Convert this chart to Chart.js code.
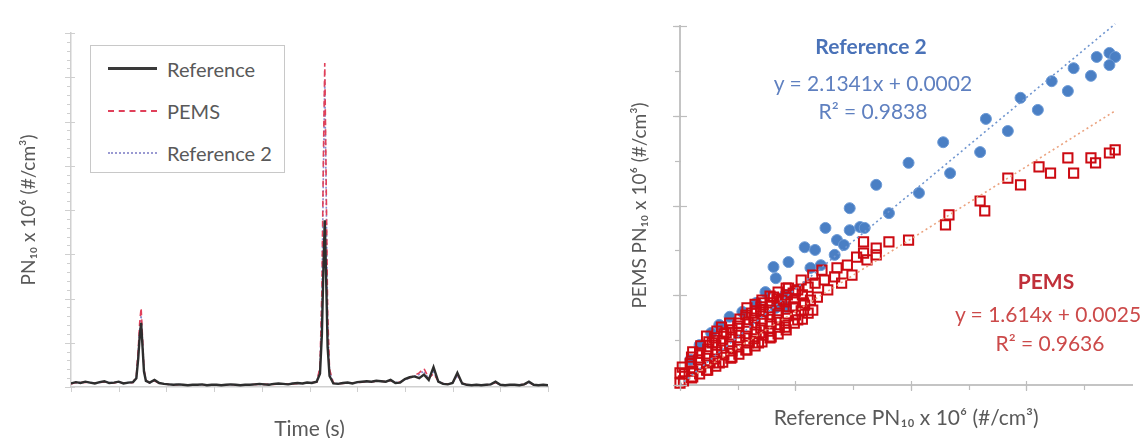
<!DOCTYPE html>
<html><head><meta charset="utf-8">
<script src="https://cdn.jsdelivr.net/npm/chart.js@4.4.1/dist/chart.umd.min.js"></script>
<style>
html,body{margin:0;padding:0;background:#fff;}
#wrap{position:relative;width:1141px;height:438px;overflow:hidden;font-family:Lato,'Open Sans',sans-serif;}
canvas{position:absolute;top:0;}
#cL{left:0}
#cR{left:560px}
.lg{position:absolute;left:90px;top:45px;width:195px;height:128px;border:1px solid #c8c8c8;box-sizing:border-box;background:#fff;}
.row{position:absolute;left:0;height:24px;width:190px;}
.sw{position:absolute;left:17px;width:49px;top:11px;height:0;}
.lt{position:absolute;left:76px;top:0;font-size:20px;line-height:24px;color:#595959;white-space:nowrap;}
.ann{position:absolute;transform:translate(-50%,-50%);white-space:nowrap;font-size:21px;line-height:1;}
</style></head>
<body>
<div id="wrap">
<canvas id="cL" width="560" height="438"></canvas>
<canvas id="cR" width="581" height="438"></canvas>
<div class="lg">
  <div class="row" style="top:11px"><div class="sw" style="border-top:3px solid #3a3a3a;top:10px"></div><div class="lt">Reference</div></div>
  <div class="row" style="top:53px"><div class="sw" style="border-top:2px dashed #e0405a"></div><div class="lt">PEMS</div></div>
  <div class="row" style="top:95px"><div class="sw" style="border-top:2px dotted #9a9ad2"></div><div class="lt">Reference 2</div></div>
</div>
<div class="ann" style="left:871px;top:45px;font-weight:bold;color:#4a72b8">Reference 2</div>
<div class="ann" style="left:873px;top:82px;color:#5f80c0">y = 2.1341x + 0.0002</div>
<div class="ann" style="left:873px;top:110px;color:#5f80c0">R² = 0.9838</div>
<div class="ann" style="left:1046px;top:280px;font-weight:bold;color:#c0303a">PEMS</div>
<div class="ann" style="left:1048px;top:313px;color:#cc4a4a">y = 1.614x + 0.0025</div>
<div class="ann" style="left:1050px;top:342px;color:#cc4a4a">R² = 0.9636</div>
</div>
<script>
// ---------- Left chart: time series ----------
const times = [0,10,20,30,40,50,60,70,80,90,100,110,120,130,
  137,141,144,147,150,153,157,
  165,175,185,195,205,215,225,235,245,255,265,275,285,295,305,315,325,335,345,355,365,375,385,395,405,415,425,435,445,455,465,475,485,495,505,515,
  522,526,529,532,535,538,542,
  550,560,570,580,590,600,610,620,630,640,650,660,670,680,690,700,710,720,730,740,750,760,770,780,790,800,810,820,830,840,850,860,870,880,890,900,910,920,930,940,950,960,970,980,990,1000];

const reference = [0.08,0.11,0.09,0.12,0.10,0.08,0.11,0.13,0.09,0.10,0.12,0.08,0.10,0.11,
  0.20,0.65,1.15,1.45,0.90,0.35,0.14,
  0.10,0.16,0.09,0.07,0.06,0.05,0.06,0.05,0.04,0.05,
  0.05,0.06,0.04,0.05,0.05,0.04,0.05,0.06,0.05,0.04,
  0.05,0.05,0.06,0.07,0.06,0.05,0.07,0.08,0.07,0.06,
  0.08,0.09,0.08,0.10,0.09,0.12,
  0.30,1.20,2.60,3.77,2.40,0.90,0.25,
  0.08,0.07,0.09,0.10,0.08,0.11,0.12,0.13,0.12,0.14,
  0.13,0.12,0.16,0.09,0.10,0.18,0.22,0.24,0.20,0.28,
  0.16,0.45,0.12,0.07,0.06,0.09,0.32,0.08,0.05,0.04,
  0.05,0.04,0.05,0.06,0.12,0.05,0.04,0.05,0.05,0.04,
  0.06,0.12,0.05,0.04,0.05,0.04];

const pems = [0.07,0.10,0.10,0.11,0.09,0.09,0.10,0.12,0.10,0.09,0.11,0.09,0.09,0.10,
  0.25,0.85,1.45,1.79,1.10,0.40,0.15,
  0.09,0.14,0.08,0.07,0.06,0.05,0.05,0.05,0.05,0.05,
  0.04,0.05,0.05,0.05,0.04,0.05,0.05,0.05,0.05,0.05,
  0.04,0.05,0.06,0.06,0.06,0.06,0.06,0.07,0.07,0.07,
  0.07,0.08,0.08,0.09,0.10,0.11,
  0.45,2.20,5.10,7.32,4.60,1.70,0.40,
  0.09,0.08,0.08,0.09,0.09,0.10,0.11,0.12,0.12,0.13,
  0.13,0.12,0.15,0.10,0.11,0.17,0.21,0.26,0.32,0.42,
  0.20,0.30,0.14,0.08,0.07,0.10,0.28,0.09,0.05,0.05,
  0.05,0.05,0.05,0.06,0.10,0.05,0.05,0.05,0.05,0.05,
  0.06,0.10,0.05,0.05,0.05,0.05];

const reference2 = [0.08,0.10,0.10,0.11,0.10,0.09,0.10,0.12,0.10,0.10,0.11,0.09,0.10,0.10,
  0.22,0.75,1.30,1.62,1.00,0.38,0.14,
  0.09,0.15,0.09,0.07,0.06,0.05,0.06,0.05,0.05,0.05,
  0.05,0.05,0.05,0.05,0.05,0.05,0.05,0.05,0.05,0.05,
  0.05,0.05,0.06,0.06,0.06,0.06,0.07,0.07,0.07,0.07,
  0.08,0.08,0.08,0.09,0.10,0.11,
  0.40,2.00,4.70,6.95,4.30,1.50,0.35,
  0.09,0.08,0.09,0.09,0.09,0.10,0.11,0.12,0.12,0.13,
  0.13,0.12,0.15,0.10,0.11,0.17,0.20,0.24,0.28,0.36,
  0.18,0.34,0.13,0.08,0.07,0.09,0.26,0.08,0.05,0.05,
  0.05,0.05,0.05,0.06,0.10,0.05,0.05,0.05,0.05,0.05,
  0.06,0.10,0.05,0.05,0.05,0.05];

// ---------- Right chart: scatter ----------
const ref2X = [0.170,0.181,0.198,0.207,0.228,0.234,0.260,0.265,0.284,0.295,0.310,0.322,0.336,0.341,0.356,0.361,0.372,0.377,0.372,
  0.147,0.126,0.147,0.156,0.160,0.136,0.108,0.117,0.142,0.094,0.081,0.083,0.134,0.122,0.113,0.074,0.091,0.092,0.083,0.043,0.066,0.027,0.054,0.017,0.009,0.034];
const ref2Y = [0.446,0.383,0.495,0.428,0.541,0.472,0.519,0.593,0.566,0.640,0.613,0.677,0.655,0.706,0.689,0.731,0.740,0.731,0.713,
  0.394,0.350,0.345,0.352,0.350,0.323,0.307,0.301,0.312,0.274,0.263,0.238,0.290,0.267,0.261,0.207,0.201,0.174,0.172,0.152,0.183,0.116,0.163,0.089,0.056,0.134];

const pemsX = [0.233,0.260,0.264,0.284,0.295,0.311,0.321,0.336,0.341,0.356,0.360,0.372,0.377,
  0.230,0.198,0.181,0.170,0.159,0.153,0.159,0.170,0.162,0.145,0.136,0.134,0.125,0.117,0.111,0.105,0.094,0.081,
  0.108,0.111,0.102,0.091,0.079,0.068,0.057,0.045,0.034,0.023,0.011,0.000,
  0.071,0.062,0.051,0.040,0.028,0.017,0.009,0.000,0.113,0.115,
  0.128,0.140,0.149,0.119,0.098,0.088,0.072,0.123,0.115,0.102,
  0.003,0.004,0.002,
  0.010,0.011,0.009,0.010,0.011,
  0.017,0.018,0.016,0.017,0.018,
  0.024,0.025,0.023,0.024,0.025,0.023,
  0.031,0.030,0.032,0.031,0.030,0.032,
  0.037,0.038,0.036,0.037,0.038,0.036,
  0.044,0.045,0.043,0.044,0.045,0.043,
  0.051,0.050,0.052,0.051,0.050,0.052,
  0.058,0.059,0.057,0.058,0.059,0.057,0.058,
  0.065,0.064,0.066,0.065,0.064,0.066,0.065,
  0.071,0.072,0.070,0.071,0.072,0.070,0.071,
  0.078,0.077,0.079,0.078,0.077,0.079,0.078,
  0.085,0.086,0.084,0.085,0.086,0.084,0.085,
  0.092,0.091,0.093,0.092,0.091,0.093,0.092,
  0.099,0.100,0.098,0.099,0.100,
  0.106,0.105,0.107,0.106];
const pemsY = [0.379,0.410,0.388,0.461,0.446,0.486,0.472,0.506,0.472,0.506,0.495,0.517,0.524,
  0.357,0.323,0.319,0.305,0.294,0.285,0.319,0.290,0.279,0.267,0.261,0.241,0.234,0.227,0.218,0.234,0.216,0.196,
  0.178,0.160,0.145,0.129,0.107,0.094,0.078,0.062,0.049,0.033,0.018,0.004,
  0.183,0.160,0.138,0.116,0.094,0.071,0.049,0.027,0.189,0.167,
  0.212,0.227,0.245,0.196,0.205,0.189,0.167,0.256,0.245,0.212,
  0.009,0.025,0.040,
  0.016,0.031,0.047,0.062,0.074,
  0.025,0.040,0.056,0.071,0.087,
  0.033,0.049,0.065,0.080,0.096,0.109,
  0.042,0.058,0.074,0.089,0.105,0.120,
  0.051,0.067,0.082,0.098,0.114,0.129,
  0.060,0.076,0.091,0.107,0.123,0.138,
  0.069,0.085,0.100,0.116,0.131,0.147,
  0.078,0.094,0.109,0.125,0.140,0.156,0.172,
  0.087,0.103,0.118,0.134,0.149,0.165,0.180,
  0.096,0.111,0.127,0.143,0.158,0.174,0.189,
  0.105,0.120,0.136,0.152,0.167,0.183,0.198,
  0.114,0.129,0.145,0.160,0.176,0.192,0.207,
  0.123,0.138,0.154,0.169,0.185,0.201,0.216,
  0.138,0.156,0.174,0.192,0.209,
  0.147,0.165,0.183,0.201];

const ref2Slope = 2.1341, ref2Intercept = 0.0002;
const pemsSlope = 1.614, pemsIntercept = 0.0025;
const trendXEnd = 0.377;

// ---------- tick-mark plugin (axis decoration only) ----------
const tickPlugin = {
  id: 'axisTicks',
  afterDraw(chart, args, o) {
    const ctx = chart.ctx, ca = chart.chartArea;
    const xs = chart.scales.x, ys = chart.scales.y;
    ctx.save();
    ctx.strokeStyle = o.color; ctx.lineWidth = o.width;
    const draw = (scale, spec, horiz) => {
      if (!spec) return;
      for (let i = 0; ; i++) {
        const v = scale.min + i * spec.step;
        if (v > scale.max + 1e-9) break;
        const p = Math.round(scale.getPixelForValue(v)) + 0.5;
        ctx.beginPath();
        if (horiz) { ctx.moveTo(p, ca.bottom - spec.inn); ctx.lineTo(p, ca.bottom + spec.out); }
        else { ctx.moveTo(ca.left - spec.out, p); ctx.lineTo(ca.left + spec.inn, p); }
        ctx.stroke();
      }
    };
    draw(xs, o.xMinor, true); draw(xs, o.xMajor, true);
    draw(ys, o.yMinor, false); draw(ys, o.yMajor, false);
    ctx.restore();
  }
};

const yTitleFont = {family: 'Lato', size: 19};
const xTitleFont = {family: 'Lato', size: 21, lineHeight: 0.8};
const pts = (xa, ya) => xa.map((x, i) => ({x: x, y: ya[i]}));

new Chart(document.getElementById('cL'), {
  type: 'line',
  data: { datasets: [
    {label: 'Reference', data: pts(times, reference), borderColor: '#2e2e2e', borderWidth: 2.4, pointRadius: 0, tension: 0, order: 0},
    {label: 'PEMS', data: pts(times, pems), borderColor: '#e0405a', borderWidth: 1.6, borderDash: [6, 4], pointRadius: 0, tension: 0, order: 1},
    {label: 'Reference 2', data: pts(times, reference2), borderColor: '#8c8ccc', borderWidth: 1.6, borderDash: [2, 2], pointRadius: 0, tension: 0, order: 2}
  ]},
  options: {
    responsive: false, animation: false,
    layout: {padding: {left: 0, top: 33, right: 12, bottom: 0}},
    plugins: {legend: {display: false}, tooltip: {enabled: false},
      axisTicks: {color: '#cfcfcf', width: 1,
        xMajor: {step: 100, inn: 0, out: 5},
        yMajor: {step: 1, inn: 4, out: 6}, yMinor: {step: 0.2, inn: 0, out: 4}}},
    scales: {
      x: {type: 'linear', min: 0, max: 1000, grid: {display: false}, border: {color: '#d0d0d0', width: 1.5},
          ticks: {display: false},
          title: {display: true, text: 'Time (s)', color: '#595959', font: xTitleFont, padding: {top: 0, bottom: 0}},
          afterFit(s) { s.height = 51; }},
      y: {type: 'linear', min: 0, max: 8, grid: {display: false}, border: {color: '#d0d0d0', width: 1.5},
          ticks: {display: false},
          title: {display: true, text: 'PN\u2081\u2080 x 10\u2076 (#/cm\u00B3)', color: '#595959', font: yTitleFont, padding: {top: 17, bottom: 0}},
          afterFit(s) { s.width = 71; }}
    }
  },
  plugins: [tickPlugin]
});

new Chart(document.getElementById('cR'), {
  type: 'scatter',
  data: { datasets: [
    {label: 'Reference 2 trend', type: 'line', data: [{x: 0, y: ref2Intercept}, {x: trendXEnd, y: ref2Slope * trendXEnd + ref2Intercept}],
      borderColor: '#6f95cf', borderWidth: 1.6, borderDash: [2, 3], pointRadius: 0, order: 0, clip: false},
    {label: 'PEMS trend', type: 'line', data: [{x: 0, y: pemsIntercept}, {x: trendXEnd, y: pemsSlope * trendXEnd + pemsIntercept}],
      borderColor: '#eba27e', borderWidth: 1.6, borderDash: [2, 3], pointRadius: 0, order: 0, clip: false},
    {label: 'PEMS', data: pts(pemsX, pemsY), pointStyle: 'rect', pointRadius: 6.5, backgroundColor: 'rgba(0,0,0,0)',
      borderColor: '#cc0a12', pointBorderWidth: 2, order: 1, clip: false},
    {label: 'Reference 2', data: pts(ref2X, ref2Y), pointStyle: 'circle', pointRadius: 5.5, backgroundColor: '#4a7fc4',
      borderColor: '#6c9ad6', pointBorderWidth: 1, order: 2, clip: false}
  ]},
  options: {
    responsive: false, animation: false,
    layout: {padding: {left: 0, top: 26, right: 0, bottom: 0}},
    plugins: {legend: {display: false}, tooltip: {enabled: false},
      axisTicks: {color: '#bdbdbd', width: 1.2,
        xMajor: {step: 0.1, inn: 4, out: 6}, xMinor: {step: 0.05, inn: 0, out: 5},
        yMajor: {step: 0.2, inn: 7, out: 7}, yMinor: {step: 0.1, inn: 1, out: 5}}},
    scales: {
      x: {type: 'linear', min: 0, max: 0.392, grid: {display: false}, border: {color: '#c4c4c4', width: 2},
          ticks: {display: false},
          title: {display: true, text: 'Reference PN\u2081\u2080 x 10\u2076 (#/cm\u00B3)', color: '#595959', font: xTitleFont, padding: {top: 0, bottom: 11}},
          afterFit(s) { s.height = 53; }},
      y: {type: 'linear', min: 0, max: 0.8, grid: {display: false}, border: {color: '#c4c4c4', width: 2},
          ticks: {display: false},
          title: {display: true, text: 'PEMS PN\u2081\u2080 x 10\u2076 (#/cm\u00B3)', color: '#595959', font: yTitleFont, padding: {top: 68, bottom: 0}},
          afterFit(s) { s.width = 120; }}
    }
  },
  plugins: [tickPlugin]
});
</script>
</body></html>
